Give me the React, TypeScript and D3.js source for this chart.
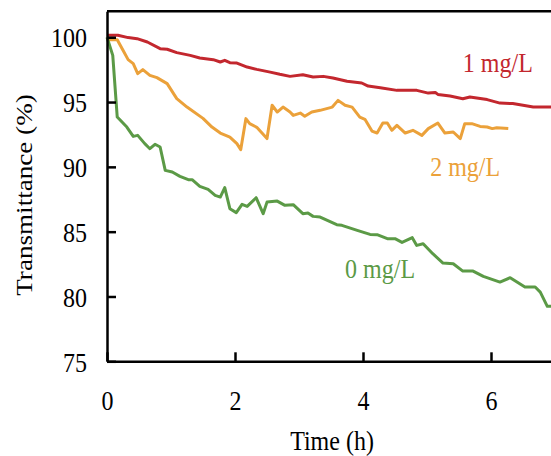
import React, { useRef, useEffect } from 'react';
import * as d3 from 'd3';

// 1 mg/L series (red)
const time1 = [0, 0.17, 0.33, 0.47, 0.63, 0.83, 0.94, 1.09, 1.3, 1.45, 1.66, 1.77, 1.84, 1.92, 2.03, 2.19, 2.34, 2.55, 2.7, 2.86, 3.06, 3.22, 3.38, 3.53, 3.75, 3.98, 4.08, 4.27, 4.53, 4.84, 5.02, 5.13, 5.17, 5.36, 5.56, 5.67, 5.94, 6.14, 6.34, 6.66, 7.0];
const value1 = [100.15, 100.15, 99.97, 99.89, 99.63, 99.12, 99.07, 98.81, 98.6, 98.4, 98.27, 98.09, 98.22, 98.04, 98.01, 97.7, 97.52, 97.31, 97.14, 96.98, 97.11, 96.93, 96.98, 96.85, 96.6, 96.47, 96.23, 96.11, 95.9, 95.9, 95.69, 95.73, 95.59, 95.46, 95.26, 95.39, 95.19, 94.92, 94.88, 94.61, 94.61];

// 2 mg/L series (orange)
const time2 = [0, 0.16, 0.25, 0.33, 0.41, 0.48, 0.56, 0.67, 0.78, 0.94, 1.09, 1.25, 1.5, 1.64, 1.77, 1.92, 2.03, 2.09, 2.17, 2.23, 2.34, 2.5, 2.58, 2.66, 2.75, 2.86, 2.91, 3.02, 3.09, 3.2, 3.33, 3.52, 3.61, 3.72, 3.83, 3.95, 4.03, 4.14, 4.22, 4.31, 4.38, 4.45, 4.53, 4.66, 4.78, 4.92, 5.02, 5.17, 5.28, 5.41, 5.52, 5.59, 5.7, 5.83, 5.94, 6.02, 6.09, 6.27];
const value2 = [99.81, 99.81, 98.99, 98.27, 97.96, 97.19, 97.5, 97.06, 96.88, 96.42, 95.26, 94.61, 93.74, 93.07, 92.61, 92.3, 91.79, 91.33, 93.72, 93.33, 93.05, 92.18, 94.75, 94.23, 94.61, 94.23, 93.97, 94.15, 93.9, 94.23, 94.36, 94.61, 95.13, 94.75, 94.61, 93.84, 93.67, 92.76, 92.61, 93.38, 93.38, 92.82, 93.2, 92.61, 92.82, 92.43, 92.95, 93.38, 92.61, 92.69, 92.18, 93.33, 93.33, 93.12, 93.07, 92.95, 93.02, 92.95];

// 0 mg/L series (green)
const time0 = [0, 0.09, 0.16, 0.31, 0.41, 0.48, 0.59, 0.67, 0.75, 0.83, 0.91, 1.02, 1.14, 1.27, 1.33, 1.45, 1.58, 1.69, 1.77, 1.84, 1.92, 2.02, 2.11, 2.19, 2.33, 2.44, 2.5, 2.66, 2.78, 2.91, 3.06, 3.14, 3.22, 3.33, 3.59, 3.67, 3.91, 4.11, 4.22, 4.38, 4.5, 4.61, 4.77, 4.84, 4.94, 5.09, 5.25, 5.41, 5.56, 5.72, 5.88, 6.14, 6.3, 6.53, 6.69, 6.77, 6.88, 7.0];
const value0 = [100.0, 98.6, 93.84, 93.07, 92.35, 92.43, 91.79, 91.4, 91.74, 91.53, 89.73, 89.6, 89.27, 89.01, 89.01, 88.5, 88.26, 87.8, 87.67, 88.4, 86.77, 86.47, 87.11, 86.95, 87.62, 86.39, 87.28, 87.36, 87.03, 87.08, 86.39, 86.44, 86.18, 86.13, 85.54, 85.49, 85.1, 84.79, 84.77, 84.46, 84.46, 84.17, 84.54, 83.94, 84.07, 83.3, 82.58, 82.53, 81.96, 81.96, 81.55, 81.11, 81.45, 80.73, 80.73, 80.34, 79.24, 79.24];

const xTicks = [0, 2, 4, 6];
const yTicks = [75, 80, 85, 90, 95, 100];

const seriesLabels = ['1 mg/L', '2 mg/L', '0 mg/L'];

const FONT = '"Liberation Serif", "Times New Roman", serif';
const STRETCH = 1.13;

function App() {
    const ref = useRef(null);

    useEffect(() => {
        const width = 551;
        const height = 456;
        const margin = { left: 107, top: 11.3 };
        const plotW = 448;
        const plotH = 350;

        d3.select(ref.current).selectAll('*').remove();

        const svg = d3.select(ref.current)
            .append('svg')
            .attr('width', width)
            .attr('height', height)
            .style('display', 'block')
            .style('position', 'absolute')
            .style('left', 0)
            .style('top', 0);

        const x = d3.scaleLinear().domain([0, 7]).range([0, plotW]);
        const y = d3.scaleLinear().domain([75, 102]).range([plotH, 0]);

        const g = svg.append('g')
            .attr('transform', `translate(${margin.left}, ${margin.top})`);

        const series = [
            { t: time1, v: value1, color: '#C3272E', label: seriesLabels[0], lx: 5.56, ly: 97.35 },
            { t: time2, v: value2, color: '#EBA13A', label: seriesLabels[1], lx: 5.05, ly: 89.3 },
            { t: time0, v: value0, color: '#5B9A46', label: seriesLabels[2], lx: 3.72, ly: 81.45 },
        ];

        const line = d3.line<[number, number]>()
            .x(d => x(d[0]))
            .y(d => y(d[1]));

        series.forEach(s => {
            const pts = s.t.map((t, i) => [t, s.v[i]] as [number, number]);
            g.append('path')
                .datum(pts)
                .attr('fill', 'none')
                .attr('stroke', s.color)
                .attr('stroke-width', 3)
                .attr('stroke-linejoin', 'round')
                .attr('d', line);
        });

        // series labels
        series.forEach(s => {
            g.append('text')
                .attr('transform', `translate(${x(s.lx)}, ${y(s.ly)}) scale(1, ${STRETCH})`)
                .attr('font-family', FONT)
                .attr('font-size', 24)
                .attr('fill', s.color)
                .text(s.label);
        });

        // frame: top and right border
        g.append('line')
            .attr('x1', 0).attr('x2', plotW)
            .attr('y1', 0).attr('y2', 0)
            .attr('stroke', '#000').attr('stroke-width', 2.5);
        g.append('line')
            .attr('x1', plotW).attr('x2', plotW)
            .attr('y1', 0).attr('y2', plotH)
            .attr('stroke', '#000').attr('stroke-width', 2.5);

        const xAxis = d3.axisBottom(x)
            .tickValues(xTicks)
            .tickFormat(d3.format('d'))
            .tickSizeInner(-9)
            .tickSizeOuter(0)
            .tickPadding(26);

        const yAxis = d3.axisLeft(y)
            .tickValues(yTicks)
            .tickFormat(d3.format('d'))
            .tickSizeInner(-9)
            .tickSizeOuter(0)
            .tickPadding(20);

        const gx = g.append('g')
            .attr('transform', `translate(0, ${plotH})`)
            .call(xAxis);
        const gy = g.append('g').call(yAxis);

        [gx, gy].forEach(ax => {
            ax.select('.domain').attr('stroke', '#000').attr('stroke-width', 2.5);
            ax.selectAll('.tick line').attr('stroke', '#000').attr('stroke-width', 2.5);
            ax.selectAll('.tick text')
                .attr('font-family', FONT)
                .attr('font-size', 24)
                .attr('fill', '#000')
                .attr('transform', `scale(1, ${STRETCH})`);
        });
        gy.selectAll('.tick text').attr('dy', '0.36em');

        // axis titles
        svg.append('text')
            .attr('transform', `translate(332, 450) scale(1, ${STRETCH})`)
            .attr('text-anchor', 'middle')
            .attr('font-family', FONT)
            .attr('font-size', 24)
            .attr('fill', '#000')
            .text('Time (h)');

        svg.append('text')
            .attr('transform', `translate(32, 195) rotate(-90) scale(${STRETCH}, 1)`)
            .attr('text-anchor', 'middle')
            .attr('font-family', FONT)
            .attr('font-size', 24)
            .attr('fill', '#000')
            .text('Transmittance (%)');
    }, []);

    return (
        <div ref={ref}></div>
    );
}

export default App;
